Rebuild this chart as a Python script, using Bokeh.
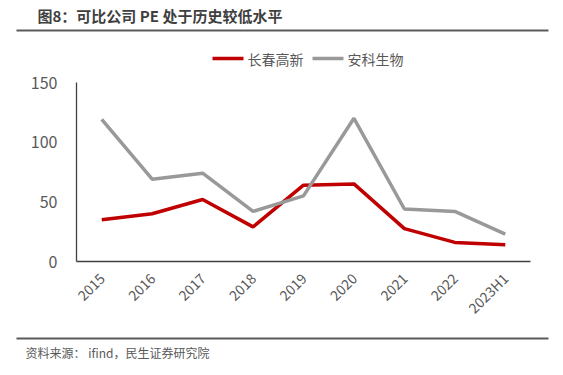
from bokeh.plotting import figure
from bokeh.layouts import column
from bokeh.models import Range1d, FixedTicker
from bokeh.core.properties import value
from bokeh.embed import file_html
from bokeh.resources import INLINE
import math

categories = ["2015", "2016", "2017", "2018", "2019", "2020", "2021", "2022", "2023H1"]
changchun = [35, 40, 52, 29, 64, 65, 27.5, 16, 14]
anke = [119, 69, 74, 42, 55, 120, 44, 42, 23]
series_names = ["长春高新", "安科生物"]
y_ticks = [0, 50, 100, 150]
title_text = "图8：可比公司 PE 处于历史较低水平"
source_text = "资料来源： ifind，民生证券研究院"

FONT = "Noto Sans CJK SC"
RED = "#C00000"
GRAY = "#999999"
TXT = "#595959"
RULE = "#5a5a5a"

W = 555
TOP_H, MAIN_TOP = 68, 14
FL, FW, FH = 76, 454, 179
MAIN_H = MAIN_TOP + FH + 69
BOT_H = 367 - TOP_H - MAIN_H  # footer starts at y = 330


def no_align(f):
    if "frame_align" in f.properties():
        f.frame_align = False


def panel(h):
    f = figure(width=W, height=h, x_range=Range1d(0, W), y_range=Range1d(h, 0),
               output_backend="svg", toolbar_location=None,
               x_axis_location=None, y_axis_location=None,
               min_border=0, outline_line_color=None)
    f.xgrid.grid_line_color = None
    f.ygrid.grid_line_color = None
    no_align(f)
    return f


# header: title, rule and legend
top = panel(TOP_H)
top.text(x=[37], y=[15], text=[title_text], text_font=value(FONT), text_font_size="15px",
         text_font_style="bold", text_color="#3f3f3f", text_baseline="middle", text_align="left")
top.segment(x0=[16], y0=[30], x1=[548], y1=[30], line_color=RULE, line_width=1.8)
top.segment(x0=[212, 312], y0=[58, 58], x1=[243, 343], y1=[58, 58],
            line_color=[RED, GRAY], line_width=3.5)
top.text(x=[247, 347], y=[58, 58], text=series_names, text_font=value(FONT),
         text_font_size="14px", text_color=TXT, text_baseline="middle", text_align="left")

# main chart
xs = list(range(len(categories)))
p = figure(width=W, height=MAIN_H, x_range=Range1d(-0.5, len(categories) - 0.5),
           y_range=Range1d(0, 150), output_backend="svg", toolbar_location=None,
           min_border_left=FL, min_border_right=W - FL - FW,
           min_border_top=MAIN_TOP, min_border_bottom=MAIN_H - MAIN_TOP - FH)
no_align(p)
p.outline_line_color = None
p.xgrid.grid_line_color = None
p.ygrid.grid_line_color = None

p.line(xs, changchun, line_color=RED, line_width=3.5)
p.line(xs, anke, line_color=GRAY, line_width=3.5)

for ax in (p.xaxis[0], p.yaxis[0]):
    ax.axis_line_color = "#404040"
    ax.axis_line_width = 1.3
    ax.major_tick_line_color = None
    ax.minor_tick_line_color = None
    ax.major_tick_out = 0
    ax.major_tick_in = 0
    ax.minor_tick_out = 0
    ax.major_label_text_color = TXT
    ax.major_label_text_font = FONT
p.yaxis[0].ticker = FixedTicker(ticks=y_ticks)
p.yaxis[0].major_label_text_font_size = "16px"
p.yaxis[0].major_label_standoff = 19
p.xaxis[0].ticker = FixedTicker(ticks=xs)
p.xaxis[0].major_label_overrides = {i: c for i, c in zip(xs, categories)}
p.xaxis[0].major_label_text_font_size = "14px"
p.xaxis[0].major_label_orientation = math.pi / 4
p.xaxis[0].major_label_standoff = 14

# footer: rule and source
bot = panel(BOT_H)
bot.segment(x0=[16], y0=[8], x1=[548], y1=[8], line_color=RULE, line_width=1.8)
bot.text(x=[25], y=[22], text=[source_text], text_font=value(FONT), text_font_size="12px",
         text_color=TXT, text_baseline="middle", text_align="left")

layout = column(top, p, bot, spacing=0)
open("out.html", "w").write(file_html(layout, INLINE))
